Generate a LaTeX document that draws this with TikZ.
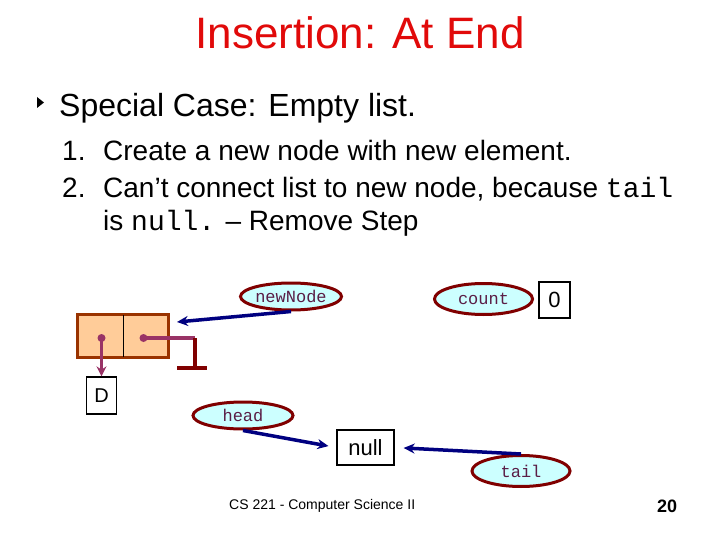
\documentclass[tikz,border=0pt]{standalone}
\usepackage{fontspec}
\setmainfont{Liberation Sans}
\setmonofont{Liberation Mono}
\usetikzlibrary{calc, arrows.meta, positioning, shapes.geometric}
\definecolor{titlered}{RGB}{225,10,10}
\definecolor{ovalfill}{RGB}{204,255,255}
\definecolor{ovalline}{RGB}{128,0,0}
\definecolor{ovaltext}{RGB}{90,30,70}
\definecolor{cellfill}{RGB}{255,204,153}
\definecolor{cellline}{RGB}{153,51,0}
\definecolor{refblue}{RGB}{0,0,128}
\definecolor{refpurple}{RGB}{153,51,102}
\tikzset{
  txt/.style={anchor=base west, inner sep=0pt},
  refoval/.style={ellipse, draw=ovalline, fill=ovalfill, line width=3pt,
    minimum width=98pt, minimum height=28pt, inner sep=0pt,
    font=\fontsize{17}{17}\ttfamily, text=ovaltext},
  valbox/.style={draw, line width=1.3pt, inner sep=0pt},
  cell/.style={fill=cellfill, minimum width=45pt, minimum height=42pt, inner sep=0pt},
  ptr/.style={refblue, line width=3.5pt, -{Stealth[length=11pt,width=10pt]}},
  link/.style={refpurple, line width=3.5pt},
}
\begin{document}
\begin{tikzpicture}[x=1pt,y=-1pt]
\useasboundingbox (0,0) rectangle (720,540);

\node[anchor=base, inner sep=0pt, text=titlered, font=\fontsize{44}{44}\selectfont] (title) at (360,49) {Insertion: At End};
\fill (37,97) -- (44,102.5) -- (37,108) -- cycle;
\node[txt, font=\fontsize{32}{32}\selectfont] (case) at (59,117) {Special Case: Empty list.};
\begin{scope}[every node/.style={txt, font=\fontsize{28}{28}\selectfont}]
\node (n1) at (62,161) {1.};
\node (s1) at (103,161) {Create a new node with new element.};
\node (n2) at (62,197) {2.};
\node (s2) at (103,197) {Can’t connect list to new node, because \texttt{tail}};
\node (s3) at (103,230) {is \texttt{null.} – Remove Step};
\end{scope}

% the new node
\node[cell] (data) at (100.5,336) {};
\node[cell] (next) at (145.5,336) {};
\draw[cellline, line width=3pt] (data.north west) rectangle (next.south east);
\draw[line width=0.8pt] (data.north east) -- (data.south east);
\node[valbox, minimum width=30pt, minimum height=37pt, font=\fontsize{20}{20}\selectfont] (dval) at (101.5,395.5) {D};
\coordinate (ddot) at (101.5,338);
\coordinate (ndot) at (143.5,338);
\coordinate (gnd) at (195,368);
\draw[link, -{Stealth[length=10pt,width=10pt]}] (ddot) -- (dval.north);
\draw[link] (ndot) -- (gnd |- ndot);
\draw[ovalline, line width=3.5pt] (gnd |- ndot) -- (gnd);
\draw[ovalline, line width=3.5pt] ($(gnd)+(-18,0)$) -- ($(gnd)+(12,0)$);
\fill[refpurple] (ddot) circle (4pt);
\fill[refpurple] (ndot) circle (4pt);

% references
\node[refoval, minimum height=27pt] (newNode) at (291,296.5) {newNode};
\node[refoval, minimum height=31pt] (count) at (483.5,299) {count};
\node[valbox, minimum width=31pt, minimum height=36pt, font=\fontsize{22}{22}\selectfont] (cval) at (554.5,300) {0};
\node[refoval, minimum width=100pt, minimum height=27pt] (head) at (243,415.5) {head};
\node[valbox, minimum width=57pt, minimum height=35pt, font=\fontsize{22}{22}\selectfont] (null) at (365.5,447.5) {null};
\node[refoval, minimum height=31pt] (tail) at (521,471) {tail};
\coordinate (nnend) at (177,322);

\draw[ptr] (newNode.south) -- (nnend);
\draw[ptr, shorten >=8pt] (head.south) -- (null.west);
\draw[ptr, shorten >=9pt] (tail.north) -- (null.east);

\node[txt, font=\fontsize{14}{14}\selectfont] (foot) at (229,509) {CS 221 - Computer Science II};
\node[txt, font=\fontsize{18}{18}\bfseries] (page) at (657,512) {20};
\end{tikzpicture}
\end{document}
